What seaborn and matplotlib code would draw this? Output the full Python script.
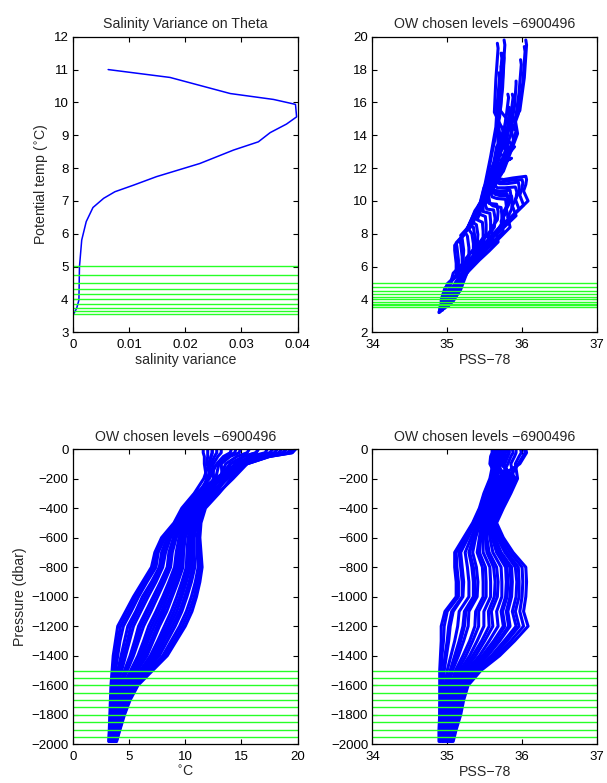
import matplotlib
matplotlib.use("Agg")
import matplotlib.pyplot as plt
import seaborn as sns
import pandas as pd

# pressure levels shared by all profiles (dbar, negative down)
pressure = [0, -25, -50, -100, -200, -300, -400, -500, -600, -700, -800, -900,
            -1000, -1100, -1200, -1300, -1400, -1500, -1600, -1700, -1800, -1900, -1980]

# temperature profiles (deg C), one list per cycle
temp_profiles = [
    [12.4, 12.4, 12.3, 12.1, 11.65, 10.8, 9.7, 9.0, 7.9, 7.3, 7.0, 6.2, 5.4, 4.7, 4.0, 3.8, 3.6, 3.5, 3.4, 3.35, 3.3, 3.25, 3.2],
    [17.8, 17.5, 16.0, 14.5, 12.7, 10.9, 9.8, 9.1, 8.05, 7.45, 7.2, 6.4, 5.6, 4.95, 4.25, 4.0, 3.8, 3.65, 3.5, 3.42, 3.35, 3.29, 3.23],
    [19.0, 18.7, 16.9, 15.1, 12.95, 11.0, 9.9, 9.2, 8.2, 7.6, 7.4, 6.6, 5.85, 5.2, 4.5, 4.2, 4.0, 3.8, 3.6, 3.5, 3.4, 3.33, 3.26],
    [14.1, 14.0, 13.4, 12.8, 12.15, 11.1, 10.0, 9.4, 8.4, 7.9, 7.7, 7.0, 6.2, 5.6, 4.9, 4.6, 4.3, 4.0, 3.75, 3.6, 3.5, 3.4, 3.3],
    [12.8, 12.8, 12.6, 12.3, 12.0, 11.2, 10.1, 9.45, 8.55, 8.1, 7.85, 7.15, 6.45, 5.8, 5.15, 4.85, 4.5, 4.2, 3.85, 3.7, 3.55, 3.43, 3.33],
    [19.8, 19.5, 17.5, 15.5, 13.3, 11.3, 10.2, 9.55, 8.7, 8.25, 8.0, 7.4, 6.7, 6.05, 5.4, 5.05, 4.7, 4.35, 3.95, 3.75, 3.6, 3.47, 3.36],
    [11.6, 11.6, 11.7, 11.7, 11.9, 11.5, 10.35, 9.75, 8.95, 8.55, 8.4, 7.8, 7.15, 6.5, 5.85, 5.5, 5.1, 4.6, 4.15, 3.9, 3.7, 3.55, 3.42],
    [19.0, 18.7, 16.9, 15.1, 13.3, 11.55, 10.4, 9.8, 9.05, 8.7, 8.55, 7.95, 7.3, 6.7, 6.05, 5.65, 5.25, 4.7, 4.2, 3.95, 3.75, 3.57, 3.44],
    [16.5, 16.3, 15.2, 14.0, 12.9, 11.65, 10.5, 9.9, 9.2, 8.85, 8.7, 8.15, 7.55, 6.95, 6.3, 5.85, 5.4, 4.85, 4.3, 4.0, 3.8, 3.6, 3.47],
    [18.2, 17.9, 16.3, 14.7, 13.3, 11.8, 10.7, 10.1, 9.45, 9.2, 9.05, 8.55, 8.0, 7.4, 6.75, 6.3, 5.8, 5.15, 4.5, 4.15, 3.9, 3.7, 3.52],
    [14.5, 14.4, 13.7, 13.0, 12.7, 11.9, 10.75, 10.2, 9.6, 9.35, 9.25, 8.75, 8.2, 7.65, 7.0, 6.5, 6.0, 5.3, 4.6, 4.23, 3.95, 3.73, 3.55],
    [13.2, 13.2, 12.9, 12.5, 12.5, 12.0, 10.85, 10.3, 9.75, 9.5, 9.45, 8.95, 8.4, 7.9, 7.25, 6.7, 6.2, 5.45, 4.7, 4.3, 4.0, 3.75, 3.58],
    [19.6, 19.3, 17.4, 15.4, 13.7, 12.1, 10.9, 10.4, 9.85, 9.7, 9.6, 9.15, 8.65, 8.1, 7.5, 6.95, 6.4, 5.6, 4.8, 4.37, 4.05, 3.8, 3.61],
    [15.7, 15.5, 14.6, 13.6, 13.05, 12.15, 11.0, 10.5, 10.0, 9.85, 9.8, 9.35, 8.85, 8.35, 7.7, 7.15, 6.6, 5.75, 4.9, 4.45, 4.1, 3.85, 3.63],
    [19.4, 19.1, 17.2, 15.3, 13.8, 12.3, 11.15, 10.65, 10.25, 10.15, 10.1, 9.7, 9.25, 8.75, 8.15, 7.55, 6.9, 6.0, 5.05, 4.55, 4.2, 3.9, 3.68],
    [12.4, 12.4, 12.3, 12.1, 12.6, 12.4, 11.25, 10.75, 10.4, 10.3, 10.3, 9.9, 9.5, 9.0, 8.4, 7.75, 7.1, 6.15, 5.15, 4.63, 4.25, 3.94, 3.71],
    [12.0, 12.0, 12.0, 11.9, 12.6, 12.5, 11.3, 10.85, 10.5, 10.45, 10.45, 10.1, 9.7, 9.25, 8.6, 7.95, 7.3, 6.25, 5.25, 4.7, 4.3, 4.0, 3.74],
    [16.5, 16.3, 15.2, 14.0, 13.45, 12.6, 11.4, 10.95, 10.65, 10.6, 10.65, 10.35, 9.95, 9.5, 8.85, 8.15, 7.5, 6.4, 5.35, 4.77, 4.35, 4.02, 3.77],
    [17.3, 17.1, 15.8, 14.4, 13.65, 12.7, 11.5, 11.05, 10.8, 10.8, 10.85, 10.55, 10.15, 9.7, 9.1, 8.4, 7.7, 6.55, 5.45, 4.85, 4.4, 4.05, 3.8],
    [14.9, 14.8, 14.0, 13.2, 13.3, 12.8, 11.6, 11.2, 11.05, 11.05, 11.15, 10.9, 10.55, 10.1, 9.5, 8.75, 8.0, 6.8, 5.6, 4.95, 4.5, 4.1, 3.84],
    [19.8, 19.5, 17.5, 15.5, 14.25, 12.9, 11.7, 11.3, 11.15, 11.25, 11.3, 11.1, 10.8, 10.35, 9.75, 9.0, 8.2, 6.95, 5.7, 5.03, 4.55, 4.16, 3.87],
    [18.6, 18.3, 16.6, 14.9, 14.1, 13.0, 11.8, 11.4, 11.3, 11.4, 11.5, 11.3, 11.0, 10.6, 10.0, 9.2, 8.4, 7.1, 5.8, 5.1, 4.6, 4.2, 3.9],
]

# salinity profiles (PSS-78), same cycles
sal_profiles = [
    [35.65, 35.65, 35.62, 35.61, 35.57, 35.49, 35.43, 35.34, 35.22, 35.10, 35.10, 35.12, 35.12, 34.97, 34.92, 34.92, 34.91, 34.90, 34.90, 34.90, 34.90, 34.89, 34.89],
    [35.69, 35.70, 35.67, 35.65, 35.58, 35.50, 35.44, 35.35, 35.24, 35.12, 35.13, 35.15, 35.15, 35.00, 34.96, 34.95, 34.93, 34.92, 34.91, 34.91, 34.90, 34.90, 34.90],
    [35.75, 35.76, 35.74, 35.70, 35.60, 35.52, 35.45, 35.36, 35.26, 35.16, 35.18, 35.20, 35.20, 35.06, 35.02, 35.00, 34.97, 34.95, 34.93, 34.92, 34.92, 34.91, 34.91],
    [35.74, 35.74, 35.72, 35.69, 35.61, 35.52, 35.46, 35.37, 35.28, 35.18, 35.20, 35.22, 35.21, 35.08, 35.04, 35.02, 34.99, 34.96, 34.94, 34.93, 34.92, 34.92, 34.91],
    [35.69, 35.70, 35.67, 35.65, 35.64, 35.55, 35.49, 35.40, 35.32, 35.24, 35.27, 35.29, 35.29, 35.16, 35.14, 35.10, 35.05, 35.00, 34.97, 34.96, 34.95, 34.94, 34.93],
    [36.05, 36.06, 36.03, 35.97, 35.66, 35.58, 35.51, 35.42, 35.35, 35.29, 35.33, 35.35, 35.35, 35.23, 35.21, 35.16, 35.10, 35.04, 34.99, 34.98, 34.97, 34.95, 34.94],
    [35.60, 35.60, 35.58, 35.57, 35.67, 35.58, 35.51, 35.42, 35.36, 35.30, 35.35, 35.37, 35.37, 35.25, 35.23, 35.18, 35.12, 35.05, 35.00, 34.98, 34.97, 34.95, 34.94],
    [35.72, 35.73, 35.70, 35.67, 35.68, 35.60, 35.53, 35.44, 35.38, 35.34, 35.39, 35.41, 35.40, 35.29, 35.28, 35.22, 35.15, 35.07, 35.02, 35.00, 34.98, 34.96, 34.95],
    [35.87, 35.88, 35.85, 35.81, 35.71, 35.63, 35.55, 35.46, 35.43, 35.40, 35.47, 35.48, 35.48, 35.38, 35.37, 35.30, 35.21, 35.11, 35.05, 35.02, 35.01, 34.98, 34.97],
    [35.72, 35.73, 35.71, 35.68, 35.73, 35.64, 35.57, 35.48, 35.45, 35.43, 35.51, 35.52, 35.52, 35.42, 35.42, 35.34, 35.25, 35.14, 35.06, 35.04, 35.02, 34.99, 34.97],
    [35.74, 35.75, 35.72, 35.69, 35.75, 35.67, 35.59, 35.50, 35.48, 35.48, 35.57, 35.58, 35.58, 35.49, 35.49, 35.40, 35.30, 35.17, 35.09, 35.06, 35.04, 35.01, 34.99],
    [35.69, 35.69, 35.67, 35.65, 35.77, 35.69, 35.61, 35.52, 35.51, 35.53, 35.62, 35.64, 35.63, 35.55, 35.56, 35.46, 35.34, 35.20, 35.11, 35.08, 35.05, 35.02, 35.00],
    [35.67, 35.68, 35.65, 35.63, 35.81, 35.72, 35.64, 35.55, 35.57, 35.61, 35.72, 35.73, 35.73, 35.66, 35.68, 35.56, 35.43, 35.26, 35.15, 35.11, 35.08, 35.04, 35.02],
    [35.83, 35.83, 35.81, 35.77, 35.79, 35.70, 35.62, 35.53, 35.53, 35.56, 35.66, 35.68, 35.67, 35.59, 35.61, 35.50, 35.38, 35.23, 35.12, 35.09, 35.06, 35.03, 35.00],
    [36.03, 36.04, 36.01, 35.95, 35.83, 35.75, 35.66, 35.57, 35.60, 35.66, 35.78, 35.79, 35.78, 35.72, 35.75, 35.62, 35.47, 35.29, 35.17, 35.13, 35.10, 35.06, 35.03],
    [35.65, 35.66, 35.63, 35.61, 35.86, 35.78, 35.68, 35.59, 35.64, 35.72, 35.86, 35.87, 35.86, 35.81, 35.84, 35.70, 35.54, 35.34, 35.20, 35.15, 35.12, 35.07, 35.04],
    [35.62, 35.62, 35.60, 35.59, 35.84, 35.75, 35.66, 35.57, 35.61, 35.67, 35.80, 35.81, 35.80, 35.74, 35.77, 35.64, 35.49, 35.30, 35.18, 35.13, 35.11, 35.06, 35.03],
    [35.81, 35.82, 35.79, 35.75, 35.86, 35.77, 35.68, 35.59, 35.63, 35.70, 35.84, 35.85, 35.84, 35.79, 35.82, 35.68, 35.52, 35.33, 35.19, 35.15, 35.12, 35.07, 35.04],
    [35.92, 35.92, 35.90, 35.85, 35.89, 35.80, 35.70, 35.61, 35.67, 35.77, 35.91, 35.93, 35.92, 35.87, 35.92, 35.76, 35.59, 35.37, 35.23, 35.17, 35.14, 35.09, 35.05],
    [35.78, 35.78, 35.76, 35.73, 35.90, 35.81, 35.72, 35.63, 35.70, 35.80, 35.95, 35.96, 35.96, 35.91, 35.96, 35.80, 35.62, 35.39, 35.24, 35.19, 35.15, 35.10, 35.06],
    [35.76, 35.77, 35.74, 35.71, 35.92, 35.83, 35.73, 35.64, 35.72, 35.84, 36.00, 36.01, 36.00, 35.97, 36.02, 35.85, 35.66, 35.42, 35.26, 35.20, 35.17, 35.11, 35.07],
    [35.98, 35.99, 35.96, 35.91, 35.94, 35.85, 35.75, 35.66, 35.75, 35.88, 36.05, 36.06, 36.05, 36.02, 36.08, 35.90, 35.70, 35.45, 35.28, 35.22, 35.18, 35.12, 35.08],
]

# salinity variance on theta levels
var_theta = [11.0, 10.76, 10.27, 10.09, 9.94, 9.56, 9.34, 9.08, 8.80, 8.55, 8.14, 7.74,
             7.48, 7.28, 7.08, 6.80, 6.37, 5.81, 5.0, 3.98, 3.73, 3.57]
var_value = [0.0063, 0.0173, 0.0280, 0.0357, 0.0396, 0.0398, 0.0380, 0.0351, 0.0330, 0.0286,
             0.0226, 0.0149, 0.0108, 0.0075, 0.0055, 0.0036, 0.0024, 0.0016, 0.0012, 0.0011,
             0.0007, 0.0002]

# levels chosen by OW
theta_levels = [5.03, 4.74, 4.51, 4.31, 4.16, 4.01, 3.87, 3.75, 3.65, 3.57]
pres_levels = [-1500, -1550, -1600, -1650, -1700, -1750, -1800, -1850, -1900, -1950]

title_ow = "OW chosen levels \u22126900496"

rows = []
for k in range(len(temp_profiles)):
    for p, t, s in zip(pressure, temp_profiles[k], sal_profiles[k]):
        rows.append({"profile": k, "pres": p, "temp": t, "sal": s})
df = pd.DataFrame(rows)

sns.set_style("ticks")
plt.rcParams["font.family"] = ["Liberation Sans", "DejaVu Sans"]
plt.rcParams["font.size"] = 9.5
plt.rcParams["axes.titlesize"] = 10.2
plt.rcParams["axes.labelsize"] = 10.2
plt.rcParams["xtick.direction"] = "in"
plt.rcParams["ytick.direction"] = "in"
plt.rcParams["xtick.top"] = True
plt.rcParams["ytick.right"] = True
plt.rcParams["xtick.major.size"] = 3.5
plt.rcParams["ytick.major.size"] = 3.5
plt.rcParams["axes.linewidth"] = 0.9
plt.rcParams["axes.edgecolor"] = "black"

fig = plt.figure(figsize=(6.07, 7.83), dpi=100)
ax1 = fig.add_axes([0.1198, 0.5756, 0.3707, 0.3775])
ax2 = fig.add_axes([0.6134, 0.5756, 0.3700, 0.3775])
ax3 = fig.add_axes([0.1198, 0.0494, 0.3707, 0.3771])
ax4 = fig.add_axes([0.6134, 0.0494, 0.3700, 0.3771])

blue = (0, 0, 1)
green = (0.15, 1, 0.15)
lw = 2.2

# salinity variance on theta
sns.lineplot(x=var_value, y=var_theta, sort=False, color=blue, lw=1.1, ax=ax1)
for t in theta_levels:
    ax1.axhline(t, color=green, lw=1)
ax1.set_xlim(0, 0.04)
ax1.set_ylim(3, 12)
ax1.set_xticks([0, 0.01, 0.02, 0.03, 0.04])
ax1.set_xticklabels(["0", "0.01", "0.02", "0.03", "0.04"])
ax1.set_title("Salinity Variance on Theta", pad=6)
ax1.set_xlabel("salinity variance", labelpad=1)
ax1.set_ylabel("Potential temp ($^{\\circ}$C)", labelpad=3)

# theta-S
sns.lineplot(data=df, x="sal", y="temp", units="profile", estimator=None, sort=False,
             color=blue, lw=lw, ax=ax2)
for t in theta_levels:
    ax2.axhline(t, color=green, lw=1)
ax2.set_xlim(34, 37)
ax2.set_ylim(2, 20)
ax2.set_xticks([34, 35, 36, 37])
ax2.set_yticks(range(2, 21, 2))
ax2.set_title(title_ow, pad=6)
ax2.set_xlabel("PSS\u221278", labelpad=1)
ax2.set_ylabel("")

# temperature vs pressure
sns.lineplot(data=df, x="temp", y="pres", units="profile", estimator=None, sort=False,
             color=blue, lw=lw, ax=ax3)
for p in pres_levels:
    ax3.axhline(p, color=green, lw=1)
ax3.set_xlim(0, 20)
ax3.set_ylim(-2000, 0)
ax3.set_xticks([0, 5, 10, 15, 20])
ax3.set_yticks(range(-2000, 1, 200))
ax3.set_title(title_ow, pad=6)
ax3.set_xlabel("$^{\\circ}$C", labelpad=1)
ax3.set_ylabel("Pressure (dbar)", labelpad=3)

# salinity vs pressure
sns.lineplot(data=df, x="sal", y="pres", units="profile", estimator=None, sort=False,
             color=blue, lw=lw, ax=ax4)
for p in pres_levels:
    ax4.axhline(p, color=green, lw=1)
ax4.set_xlim(34, 37)
ax4.set_ylim(-2000, 0)
ax4.set_xticks([34, 35, 36, 37])
ax4.set_yticks(range(-2000, 1, 200))
ax4.set_title(title_ow, pad=6)
ax4.set_xlabel("PSS\u221278", labelpad=1)
ax4.set_ylabel("")

for ax in [ax1, ax2, ax3, ax4]:
    ax.tick_params(colors="black", labelsize=9.5)
    ax.tick_params(axis="x", pad=5)
    ax.tick_params(axis="y", pad=3)
    for sp in ax.spines.values():
        sp.set_visible(True)

fig.savefig("out.png", dpi=100)
